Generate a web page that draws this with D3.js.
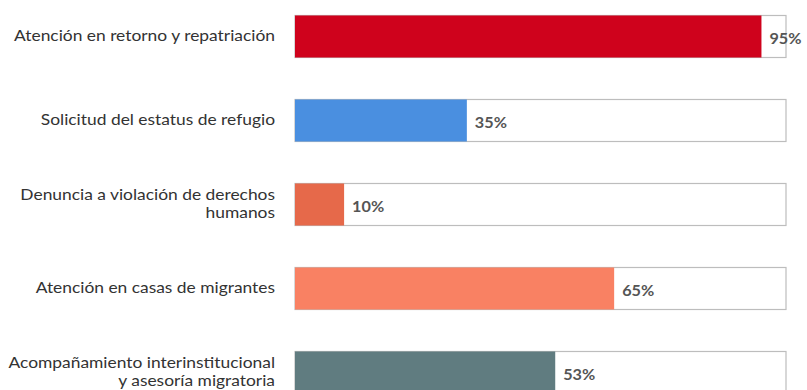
<!DOCTYPE html>
<html>
<head>
<meta charset="utf-8">
<script src="https://cdn.jsdelivr.net/npm/d3@7"></script>
<style>
  html, body { margin: 0; padding: 0; background: #fff; }
  svg { display: block; }
</style>
</head>
<body>
<svg id="chart" width="807" height="390"></svg>
<script>
// Categories (each entry is a list of label lines)
const categories = [
  ["Atención en retorno y repatriación"],
  ["Solicitud del estatus de refugio"],
  ["Denuncia a violación de derechos", "humanos"],
  ["Atención en casas de migrantes"],
  ["Acompañamiento interinstitucional", "y asesoría migratoria"]
];
const values = [95, 35, 10, 65, 53];
const barColors = ["#cf021c", "#4a8fe0", "#e6694a", "#f98163", "#607c80"];

const svg = d3.select("#chart");
const W = 807;
const margin = { left: 295, right: 21 };

const x = d3.scaleLinear().domain([0, 100]).range([margin.left, W - margin.right]);
const y = d3.scaleBand()
  .domain(d3.range(categories.length))
  .range([-5.5, 414.5])
  .paddingInner(0.5)
  .paddingOuter(0.25);

const font = "Lato, 'Open Sans', sans-serif";
const labelRight = 275;
const lineH = 18;

const rows = svg.selectAll("g.row")
  .data(values.map((v, i) => ({ v, i, label: categories[i], color: barColors[i] })))
  .join("g")
  .attr("class", "row");

// background track (full 100%)
rows.append("rect")
  .attr("x", x(0))
  .attr("y", d => y(d.i))
  .attr("width", x(100) - x(0))
  .attr("height", y.bandwidth())
  .attr("fill", "#fff")
  .attr("stroke", "#bdbdbd")
  .attr("stroke-width", 1.2);

// value bar
rows.append("rect")
  .attr("x", x(0))
  .attr("y", d => y(d.i))
  .attr("width", d => x(d.v) - x(0))
  .attr("height", y.bandwidth())
  .attr("fill", d => d.color);

// value label
rows.append("text")
  .attr("transform", d => `translate(${x(d.v) + 8},${y(d.i) + y.bandwidth() / 2 + 7.5}) scale(1.08,1)`)
  .attr("font-family", font)
  .attr("font-weight", "bold")
  .attr("font-size", 15)
  .attr("fill", "#555")
  .text(d => d.v + "%");

// category label (right aligned, slightly widened type)
rows.each(function (d) {
  const g = d3.select(this);
  const cy = y(d.i) + y.bandwidth() / 2 + 4.2;
  const n = d.label.length;
  d.label.forEach((line, k) => {
    g.append("text")
      .attr("transform", `translate(${labelRight},${cy + (k - (n - 1) / 2) * lineH}) scale(1.2,1)`)
      .attr("text-anchor", "end")
      .attr("font-family", font)
      .attr("font-size", 14.5)
      .attr("fill", "#333")
      .text(line);
  });
});
</script>
</body>
</html>
